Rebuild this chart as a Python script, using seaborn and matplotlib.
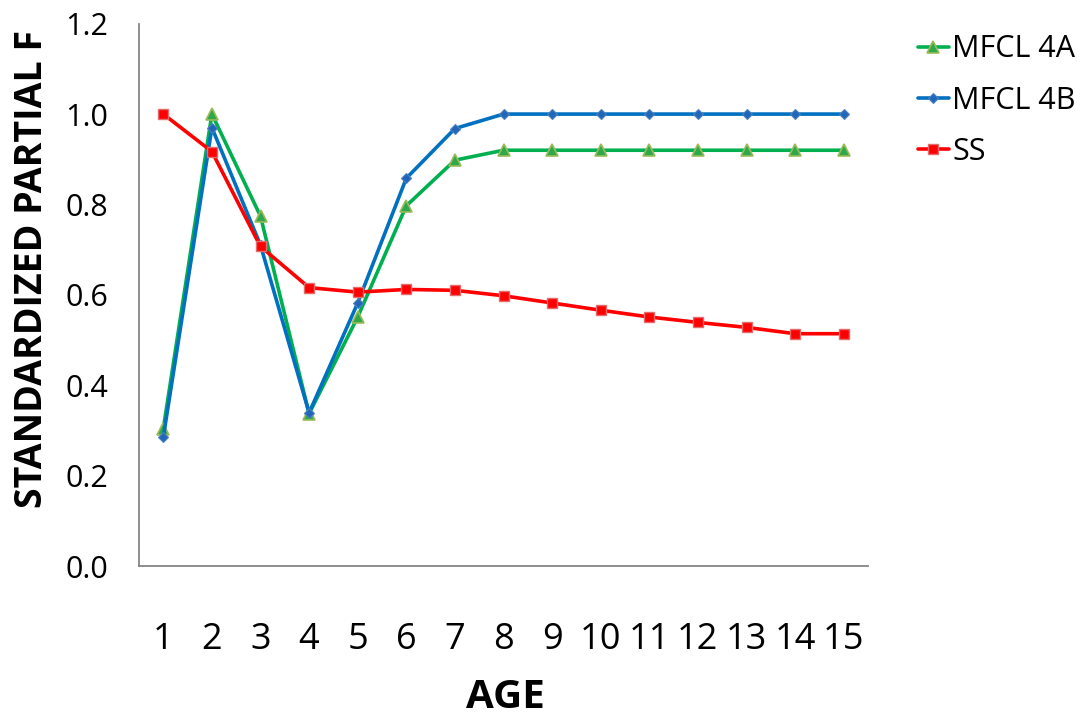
import numpy as np
import pandas as pd
import matplotlib
matplotlib.use("Agg")
import matplotlib.pyplot as plt
import matplotlib.ticker as mticker
import seaborn as sns

sns.set_theme(style="white")
plt.rcParams["font.family"] = ["Open Sans", "DejaVu Sans"]
plt.rcParams["text.color"] = "black"
plt.rcParams["axes.labelcolor"] = "black"

# datos
edades = list(range(1, 16))
mfcl_4a = [0.304, 1.000, 0.774, 0.337, 0.551, 0.797, 0.898, 0.920, 0.920, 0.920,
           0.920, 0.920, 0.920, 0.920, 0.920]
mfcl_4b = [0.285, 0.970, 0.710, 0.339, 0.582, 0.858, 0.968, 1.000, 1.000, 1.000,
           1.000, 1.000, 1.000, 1.000, 1.000]
ss = [1.000, 0.917, 0.707, 0.616, 0.606, 0.612, 0.610, 0.598, 0.582, 0.566,
      0.551, 0.539, 0.528, 0.514, 0.514]
series = ["MFCL 4A", "MFCL 4B", "SS"]
y_ticks = [0.0, 0.2, 0.4, 0.6, 0.8, 1.0, 1.2]

df = pd.DataFrame({
    "pos": list(range(len(edades))) * 3,
    "valor": mfcl_4a + mfcl_4b + ss,
    "serie": [s for s in series for _ in edades],
})

estilos = {
    "MFCL 4A": dict(color="#00B050", marker="^", markersize=8, markerfacecolor="#2EA84A",
                    markeredgecolor="#9BBB59", markeredgewidth=1.2),
    "MFCL 4B": dict(color="#0070C0", marker="D", markersize=5.5, markerfacecolor="#2166B8",
                    markeredgecolor="#4F81BD", markeredgewidth=0.8),
    "SS":      dict(color="#FF0000", marker="s", markersize=7.5, markerfacecolor="#FF0000",
                    markeredgecolor="#E46C6C", markeredgewidth=1.0),
}

fig = plt.figure(figsize=(10.83, 7.18), dpi=100)
ax = fig.add_axes([139 / 1083, 1 - 566 / 718, 729 / 1083, (566 - 23.7) / 718])

for s in series:
    sns.lineplot(data=df[df["serie"] == s], x="pos", y="valor", ax=ax, label=s,
                 linewidth=2.6, **estilos[s])

ax.set_xlim(-0.5, len(edades) - 0.5)
ax.set_ylim(0, 1.2)
ax.set_yticks(y_ticks)
ax.yaxis.set_major_formatter(mticker.FormatStrFormatter("%.1f"))
ax.set_xticks(range(len(edades)))
ax.set_xticklabels([str(e) for e in edades])
ax.set_xticks(np.arange(-0.5, len(edades)), minor=True)

for lado in ["top", "right"]:
    ax.spines[lado].set_visible(False)
for lado in ["left", "bottom"]:
    ax.spines[lado].set_color("#868686")
    ax.spines[lado].set_linewidth(1.3)

ax.tick_params(axis="x", which="major", length=0, pad=40, labelsize=26, labelcolor="black")
ax.tick_params(axis="x", which="minor", length=9, width=1, color="#868686", direction="out")
ax.tick_params(axis="y", which="major", length=7, width=1.3, color="#868686",
               direction="out", pad=15, labelsize=22, labelcolor="black")

ax.set_xlabel("AGE", fontsize=29, fontweight="bold", va="center")
ax.set_ylabel("STANDARDIZED PARTIAL F", fontsize=27, fontweight="bold", va="center")
ax.xaxis.set_label_coords(0.502, -0.2416)
ax.yaxis.set_label_coords(-0.147, 0.548)

leg = ax.legend(loc="upper left", bbox_to_anchor=(1.052, 1.003), frameon=False,
                fontsize=22, handlelength=1.0, handletextpad=0.12, labelspacing=0.7,
                borderaxespad=0)

fig.savefig("out.png", dpi=100)
